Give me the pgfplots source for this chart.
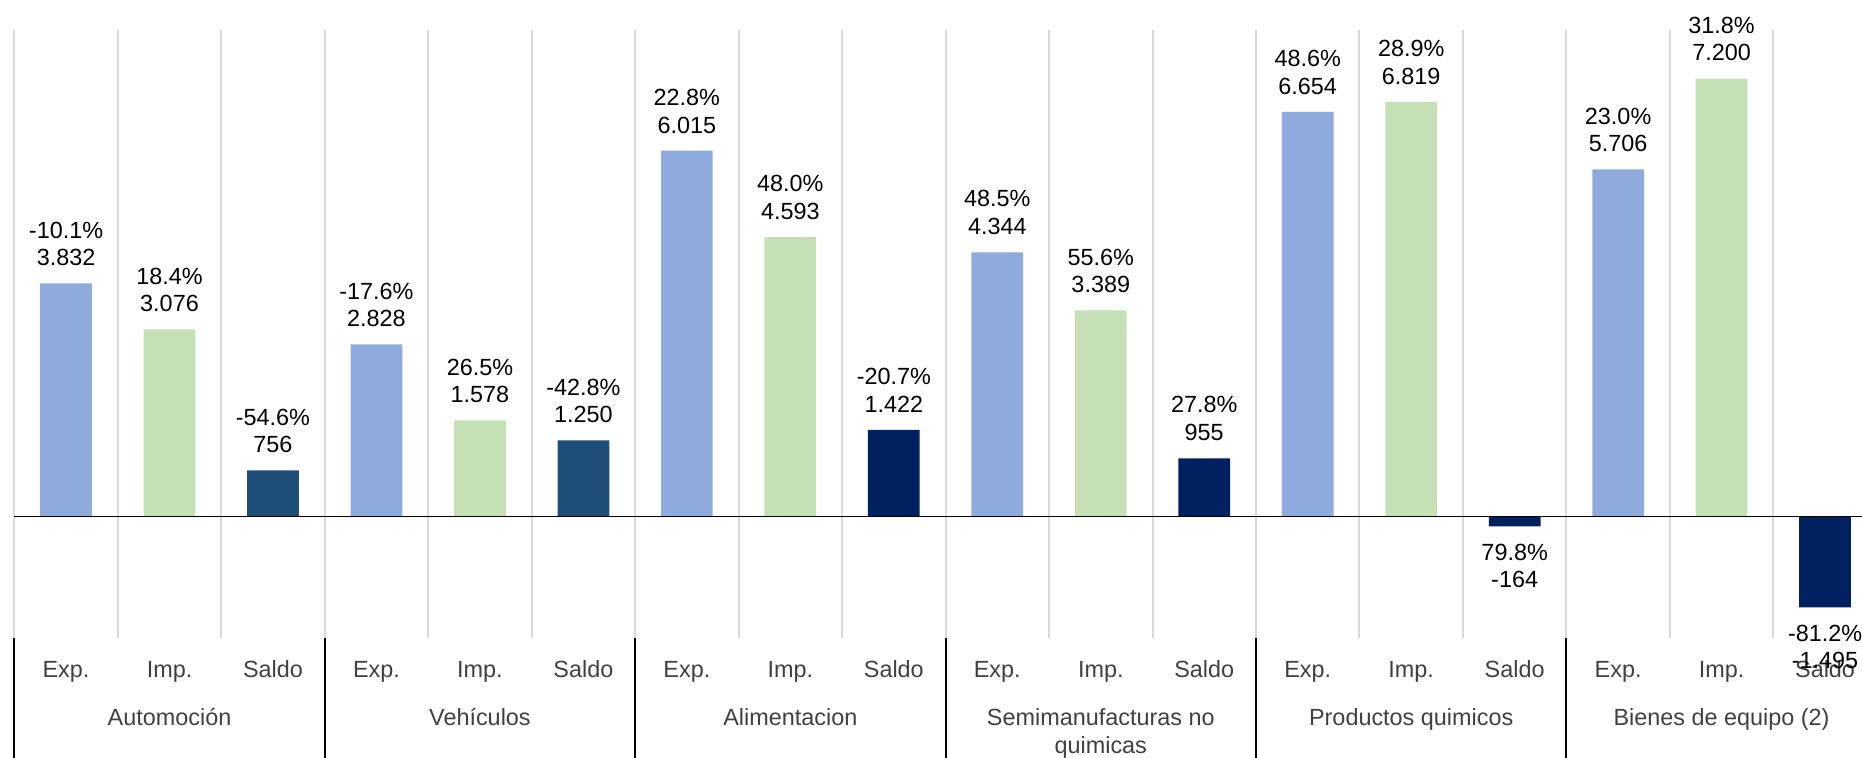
\documentclass[border=0pt]{standalone}
\usepackage{fontspec}
\setmainfont{Liberation Sans}
\usepackage{pgfplots}
\usepackage{pgfplotstable}
\pgfplotsset{compat=1.18}
\definecolor{expblue}{HTML}{8FAADC}
\definecolor{impgreen}{HTML}{C5E0B4}
\definecolor{saldoA}{HTML}{1F4E79}
\definecolor{saldoB}{HTML}{002060}
\definecolor{gridgray}{HTML}{D9D9D9}
\definecolor{labelgray}{HTML}{404040}

\pgfplotstableread{
x y pct
0 3832 -10.1
3 2828 -17.6
6 6015 22.8
9 4344 48.5
12 6654 48.6
15 5706 23.0
}\exptable
\pgfplotstableread{
x y pct
1 3076 18.4
4 1578 26.5
7 4593 48.0
10 3389 55.6
13 6819 28.9
16 7200 31.8
}\imptable
\pgfplotstableread{
x y pct
2 756 -54.6
5 1250 -42.8
}\saldoAtable
\pgfplotstableread{
x y pct
8 1422 -20.7
11 955 27.8
}\saldoBtable
\pgfplotstableread{
x y pct
14 -164 79.8
17 -1495 -81.2
}\saldoNegtable

\newcommand{\lblfont}{\fontsize{11.7}{13.85}\selectfont}

\pgfplotsset{
  mybar/.style={ybar, bar width=0.5, bar shift=0pt, draw=none,
    point meta=explicit symbolic,
    nodes near coords={\pgfplotspointmeta\%\\\pgfmathprintnumber[assume math mode=true, fixed, precision=0, 1000 sep={.}]{\pgfkeysvalueof{/data point/y}}},
    every node near coord/.append style={anchor=south, align=center, font=\lblfont, text=black, inner sep=0pt, outer xsep=0pt, outer ysep=8.7pt},
  },
  negbar/.style={mybar, every node near coord/.append style={anchor=north}},
}

\begin{document}
\begin{tikzpicture}
\begin{axis}[
  at={(0,0)}, anchor=south west,
  scale only axis, width=923.85pt, height=304pt,
  xmin=-0.5, xmax=17.357, ymin=-2000, ymax=8000,
  clip=false,
  axis line style={draw=none},
  ytick=\empty,
  xtick={0,...,17},
  xticklabels={Exp.,Imp.,Saldo,Exp.,Imp.,Saldo,Exp.,Imp.,Saldo,Exp.,Imp.,Saldo,Exp.,Imp.,Saldo,Exp.,Imp.,Saldo},
  xticklabel style={font=\lblfont, text=labelgray, anchor=north, inner sep=0pt, text height=8.4pt, text depth=0pt},
  xticklabel shift=11.1pt,
  major tick length=0pt,
  minor xtick={-0.5,0.5,...,16.5},
  minor tick length=0pt,
  xminorgrids,
  minor grid style={color=gridgray, line width=1pt},
  tick pos=bottom,
  extra x ticks={-0.5,2.5,5.5,8.5,11.5,14.5},
  extra x tick labels={},
  extra x tick style={tick align=outside, major tick length=60pt, major tick style={black, line width=1pt}, grid=none},
]
\addplot[mybar, fill=expblue] table[x=x,y=y,meta=pct] {\exptable};
\addplot[mybar, fill=impgreen] table[x=x,y=y,meta=pct] {\imptable};
\addplot[mybar, fill=saldoA] table[x=x,y=y,meta=pct] {\saldoAtable};
\addplot[mybar, fill=saldoB] table[x=x,y=y,meta=pct] {\saldoBtable};
\addplot[negbar, fill=saldoB] table[x=x,y=y,meta=pct] {\saldoNegtable};
\draw[black, line width=0.8pt] (axis cs:-0.5,0) -- (axis cs:17.357,0);
\begin{scope}[every node/.style={font=\lblfont, text=labelgray, anchor=base, inner sep=0pt}]
\node[yshift=-44pt] at (axis cs:1,-2000) {Automoción};
\node[yshift=-44pt] at (axis cs:4,-2000) {Vehículos};
\node[yshift=-44pt] at (axis cs:7,-2000) {Alimentacion};
\node[yshift=-44pt] at (axis cs:10,-2000) {Semimanufacturas no};
\node[yshift=-58pt] at (axis cs:10,-2000) {quimicas};
\node[yshift=-44pt] at (axis cs:13,-2000) {Productos quimicos};
\node[yshift=-44pt] at (axis cs:16,-2000) {Bienes de equipo (2)};
\end{scope}
\end{axis}
\pgfresetboundingbox
\path[use as bounding box] (-7.15pt,-60pt) rectangle (923.85pt,319pt);
\end{tikzpicture}
\end{document}
